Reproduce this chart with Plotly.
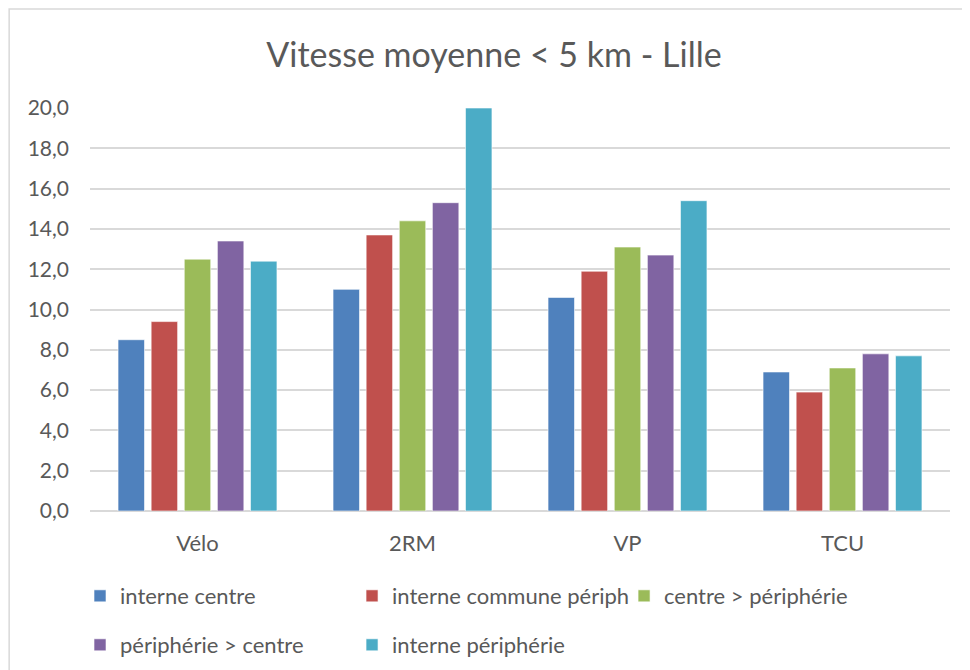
import plotly.graph_objects as go

categories = ["Vélo", "2RM", "VP", "TCU"]
series_names = ["interne centre", "interne commune périph", "centre > périphérie",
                "périphérie > centre", "interne périphérie"]
interne_centre = [8.5, 11.0, 10.6, 6.9]
interne_commune_periph = [9.4, 13.7, 11.9, 5.9]
centre_peripherie = [12.5, 14.4, 13.1, 7.1]
peripherie_centre = [13.4, 15.3, 12.7, 7.8]
interne_peripherie = [12.4, 20.0, 15.4, 7.7]
y_ticks = [0, 2, 4, 6, 8, 10, 12, 14, 16, 18, 20]

values = [interne_centre, interne_commune_periph, centre_peripherie,
          peripherie_centre, interne_peripherie]
colors = ["#4F81BD", "#C0504D", "#9BBB59", "#8064A2", "#4BACC6"]
legend_ids = ["legend", "legend2", "legend3", "legend4", "legend5"]
# legend item positions (paper coords), Excel-like two-row layout
legend_x = [-0.0116, 0.3047, 0.621, -0.0116, 0.3047]
legend_y = [-0.211, -0.211, -0.211, -0.3325, -0.3325]

fig = go.Figure()
for i in range(len(series_names)):
    fig.add_trace(go.Bar(name=series_names[i], x=categories, y=values[i],
                         marker=dict(color=colors[i], line=dict(color="white", width=0.6)),
                         legend=legend_ids[i], showlegend=True))

font_fam = "Lato, 'Noto Sans', sans-serif"
for i in range(len(legend_ids)):
    fig.update_layout({legend_ids[i]: dict(
        x=legend_x[i], y=legend_y[i], orientation="h", xanchor="left", yanchor="middle",
        itemwidth=30, bgcolor="rgba(0,0,0,0)", visible=True,
        font=dict(family=font_fam, size=22, color="#595959"))})

fig.update_layout(
    width=970, height=670,
    showlegend=True,
    margin=dict(l=82, r=28, t=100, b=167),
    paper_bgcolor="white", plot_bgcolor="white",
    separators=", ",
    barmode="group", bargap=0.23, bargroupgap=0.2,
    title=dict(text="Vitesse moyenne < 5 km - Lille", x=0.501, xanchor="center",
               y=0.93, yanchor="middle",
               font=dict(family=font_fam, size=34, color="#595959")),
    font=dict(family=font_fam, color="#595959"),
    xaxis=dict(showgrid=False, showline=False, ticks="", ticklabelstandoff=17,
               tickfont=dict(size=22, color="#595959")),
    yaxis=dict(range=[0, 20], tickvals=y_ticks, tickformat=".1f", showgrid=True,
               gridcolor="#D9D9D9", gridwidth=1.5, zeroline=True, zerolinecolor="#D9D9D9",
               zerolinewidth=1.5, showline=False, ticks="", ticklabelstandoff=20,
               tickfont=dict(size=21, color="#595959")),
)

# light frame around the whole chart
fig.add_shape(type="rect", xref="paper", yref="paper",
              x0=-0.094, x1=2, y0=-2, y1=1.2457,
              line=dict(color="#D9D9D9", width=1.5), fillcolor="rgba(0,0,0,0)", layer="below")

fig.write_html("out.html")
